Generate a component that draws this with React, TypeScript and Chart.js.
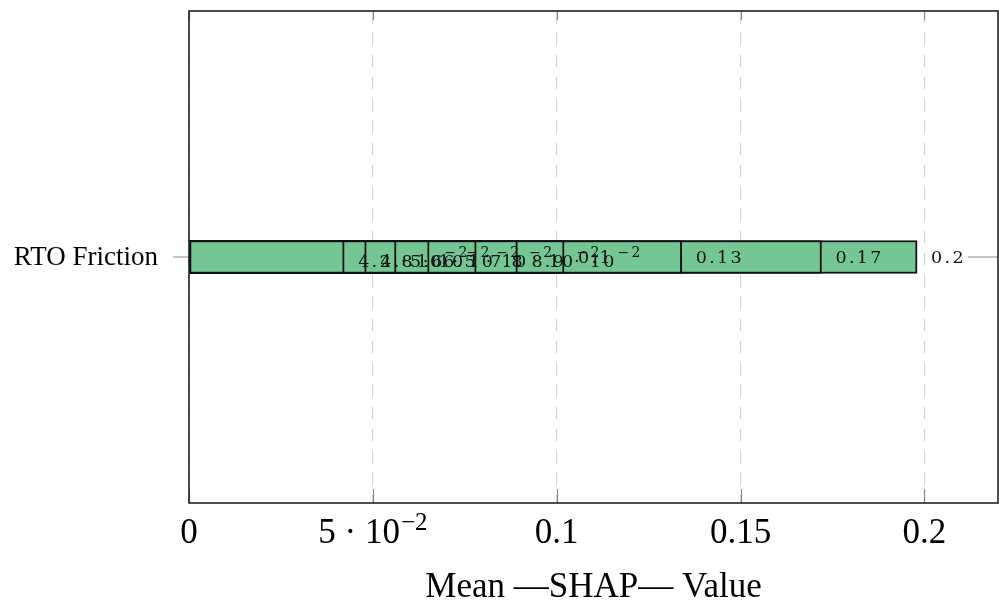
import React, { useEffect, useRef } from 'react';
import { Chart, registerables } from 'chart.js';

Chart.register(...registerables);

const categories = ['RTO Friction'];
const barValues = [0.0422, 0.0482, 0.0563, 0.0653, 0.0781, 0.0893, 0.102, 0.134, 0.172, 0.198];
const barLabels = ['4.2e-2', '4.8e-2', '5.6e-2', '6.5e-2', '7.8e-2', '8.9e-2', '0.1', '0.13', '0.17', '0.2'];
const xTicks = [0, 0.05, 0.1, 0.15, 0.2];
const xTickLabels = ['0', '5e-2', '0.1', '0.15', '0.2'];
const xTitle = 'Mean —SHAP— Value';

const BAR_FILL = 'rgb(116,199,148)';
const SERIF = '"Liberation Serif", "Times New Roman", serif';
const LABEL_FONT = '"DejaVu Serif", serif';

function drawSciOrPlain(
  ctx: CanvasRenderingContext2D,
  text: string,
  x: number,
  y: number,
  align: 'left' | 'center',
  mainFont: string,
  expFont: string,
  sciDrop: number,
  expRise: number,
  spacing: string
) {
  ctx.save();
  ctx.textBaseline = 'alphabetic';
  ctx.textAlign = 'left';
  (ctx as any).letterSpacing = spacing;
  if (text.includes('e')) {
    const [m, e] = text.split('e');
    const mainPart = m + ' · 10';
    const expPart = e.replace('-', '−');
    ctx.font = mainFont;
    const w1 = ctx.measureText(mainPart).width;
    ctx.font = expFont;
    const w2 = ctx.measureText(expPart).width;
    const total = w1 + 1 + w2;
    const x0 = align === 'center' ? x - total / 2 : x;
    ctx.font = mainFont;
    ctx.fillText(mainPart, x0, y + sciDrop);
    ctx.font = expFont;
    ctx.fillText(expPart, x0 + w1 + 1, y + sciDrop - expRise);
  } else {
    ctx.font = mainFont;
    const w = ctx.measureText(text).width;
    const x0 = align === 'center' ? x - w / 2 : x;
    ctx.fillText(text, x0, y);
  }
  ctx.restore();
}

const decorPlugin = {
  id: 'decor',
  afterDatasetsDraw(chart: any) {
    const ctx: CanvasRenderingContext2D = chart.ctx;
    const area = chart.chartArea;
    const xs = chart.scales.x;
    const ys = chart.scales.y;

    // tick marks on top and bottom (inside)
    ctx.save();
    ctx.strokeStyle = '#8a8a8a';
    ctx.lineWidth = 1.2;
    xTicks.forEach((v) => {
      const px = Math.round(xs.getPixelForValue(v)) + 0.5;
      ctx.beginPath();
      ctx.moveTo(px, area.top);
      ctx.lineTo(px, area.top + 9);
      ctx.moveTo(px, area.bottom);
      ctx.lineTo(px, area.bottom - 14);
      ctx.stroke();
    });
    // y tick marks
    categories.forEach((_, i) => {
      const py = ys.getPixelForValue(i);
      ctx.beginPath();
      ctx.moveTo(area.left - 16, py);
      ctx.lineTo(area.left, py);
      ctx.moveTo(area.right - 30, py);
      ctx.lineTo(area.right, py);
      ctx.stroke();
    });
    ctx.restore();

    // data labels at bar ends
    ctx.save();
    ctx.fillStyle = '#111';
    barValues.forEach((_, i) => {
      const meta = chart.getDatasetMeta(i);
      const el = meta.data[0];
      if (!el) return;
      const lx = el.x + 14;
      const ly = el.y + 6;
      drawSciOrPlain(
        ctx,
        barLabels[i],
        lx,
        ly,
        'left',
        `17.5px ${LABEL_FONT}`,
        `14px ${LABEL_FONT}`,
        4,
        10,
        '2.3px'
      );
    });
    ctx.restore();

    // axis frame
    ctx.save();
    ctx.strokeStyle = '#222';
    ctx.lineWidth = 1.6;
    ctx.strokeRect(area.left, area.top, area.right - area.left, area.bottom - area.top);
    ctx.restore();

    // y tick labels
    ctx.save();
    ctx.fillStyle = '#000';
    ctx.font = `27px ${SERIF}`;
    ctx.textAlign = 'right';
    ctx.textBaseline = 'middle';
    categories.forEach((c, i) => {
      ctx.fillText(c, area.left - 31, ys.getPixelForValue(i) + 1);
    });
    ctx.restore();

    // x tick labels
    ctx.save();
    ctx.fillStyle = '#000';
    xTicks.forEach((v, i) => {
      const px = xs.getPixelForValue(v);
      drawSciOrPlain(
        ctx,
        xTickLabels[i],
        px,
        543,
        'center',
        `35px ${SERIF}`,
        `25px ${SERIF}`,
        0,
        13,
        '0px'
      );
    });
    // x title
    ctx.font = `35px ${SERIF}`;
    ctx.textAlign = 'center';
    ctx.textBaseline = 'alphabetic';
    ctx.fillText(xTitle, (area.left + area.right) / 2, 597);
    ctx.restore();
  },
};

export default function App() {
  const ref = useRef<HTMLCanvasElement | null>(null);

  useEffect(() => {
    if (!ref.current) return;
    const chart = new Chart(ref.current, {
      type: 'bar',
      data: {
        labels: categories,
        datasets: barValues.map((v, i) => ({
          label: barLabels[i],
          data: [v],
          backgroundColor: BAR_FILL,
          borderColor: '#111',
          borderWidth: 2,
          borderSkipped: false,
          barThickness: 33,
          grouped: false,
        })) as any,
      },
      options: {
        indexAxis: 'y',
        animation: false,
        responsive: false,
        maintainAspectRatio: false,
        layout: { padding: { top: 11, right: 1, left: 0, bottom: 0 } },
        plugins: {
          legend: { display: false },
          tooltip: { enabled: false },
        },
        scales: {
          x: {
            type: 'linear',
            min: 0,
            max: 0.22,
            afterBuildTicks: (scale: any) => {
              scale.ticks = xTicks.map((v) => ({ value: v }));
            },
            afterFit: (scale: any) => {
              scale.height = 101;
            },
            ticks: { display: false },
            grid: {
              display: true,
              color: '#d4d4d4',
              lineWidth: 1.2,
              drawTicks: false,
            },
            border: { display: false, dash: [12, 10] },
          },
          y: {
            type: 'category',
            afterFit: (scale: any) => {
              scale.width = 189;
            },
            ticks: { display: false },
            grid: { display: false, drawTicks: false },
            border: { display: false },
          },
        },
      } as any,
      plugins: [decorPlugin],
    });
    return () => chart.destroy();
  }, []);

  return (
    <div style={{ position: 'fixed', left: 0, top: 0, width: 999, height: 604, background: '#fff' }}>
      <canvas ref={ref} width={999} height={604} style={{ width: 999, height: 604, display: 'block' }} />
    </div>
  );
}
